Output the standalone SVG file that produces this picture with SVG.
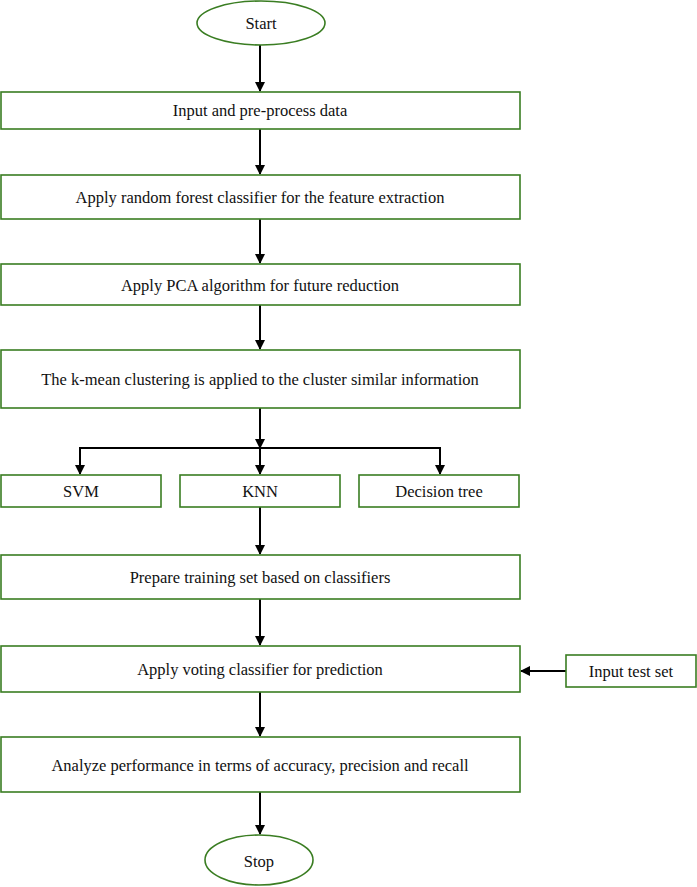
<svg xmlns="http://www.w3.org/2000/svg" width="697" height="887" viewBox="0 0 697 887">
<defs>
<marker id="ah" markerWidth="10" markerHeight="10" refX="9" refY="5" orient="auto" markerUnits="userSpaceOnUse">
<path d="M0,0 L10,5 L0,10 z" fill="#000"/>
</marker>
<style>
.n{fill:#fff;stroke:#3a7d22;stroke-width:1.6}
.t{font-size:16.5px;fill:#111;text-anchor:middle;dominant-baseline:central}
.c{stroke:#000;stroke-width:2;fill:none}
</style>
</defs>
<rect width="697" height="887" fill="#fff"/>
<g id="connectors">
<line class="c" x1="260" y1="45" x2="260" y2="91" marker-end="url(#ah)"/>
<line class="c" x1="260" y1="129" x2="260" y2="174" marker-end="url(#ah)"/>
<line class="c" x1="260" y1="219" x2="260" y2="263" marker-end="url(#ah)"/>
<line class="c" x1="260" y1="305" x2="260" y2="349" marker-end="url(#ah)"/>
<line class="c" x1="260" y1="408" x2="260" y2="448" marker-end="url(#ah)"/>
<polyline class="c" points="80,474 80,448 440,448 440,474" marker-end="url(#ah)"/>
<line class="c" x1="80" y1="448" x2="80" y2="474" marker-end="url(#ah)"/>
<line class="c" x1="260" y1="448" x2="260" y2="474" marker-end="url(#ah)"/>
<line class="c" x1="260" y1="507" x2="260" y2="554" marker-end="url(#ah)"/>
<line class="c" x1="260" y1="599" x2="260" y2="645" marker-end="url(#ah)"/>
<line class="c" x1="566" y1="671" x2="521" y2="671" marker-end="url(#ah)"/>
<line class="c" x1="260" y1="692" x2="260" y2="736" marker-end="url(#ah)"/>
<line class="c" x1="260" y1="792" x2="260" y2="834" marker-end="url(#ah)"/>
</g>
<g font-family="'Liberation Serif', 'DejaVu Serif', 'Times New Roman', serif">
<g id="start"><ellipse class="n" cx="261" cy="23" rx="64" ry="22"/><text class="t" x="261" y="23">Start</text></g>
<g id="input"><rect class="n" x="1" y="92" width="519" height="37"/><text class="t" x="260" y="110">Input and pre-process data</text></g>
<g id="rf"><rect class="n" x="1" y="175" width="519" height="44"/><text class="t" x="260" y="197">Apply random forest classifier for the feature extraction</text></g>
<g id="pca"><rect class="n" x="1" y="264" width="519" height="41"/><text class="t" x="260" y="285">Apply PCA algorithm for future reduction</text></g>
<g id="kmean"><rect class="n" x="1" y="350" width="519" height="58"/><text class="t" x="260" y="379">The k-mean clustering is applied to the cluster similar information</text></g>
<g id="svm"><rect class="n" x="1" y="475" width="160" height="32"/><text class="t" x="81" y="491">SVM</text></g>
<g id="knn"><rect class="n" x="180" y="475" width="160" height="32"/><text class="t" x="260" y="491">KNN</text></g>
<g id="dt"><rect class="n" x="359" y="475" width="160" height="32"/><text class="t" x="439" y="491">Decision tree</text></g>
<g id="train"><rect class="n" x="1" y="555" width="519" height="44"/><text class="t" x="260" y="577">Prepare training set based on classifiers</text></g>
<g id="vote"><rect class="n" x="1" y="646" width="519" height="46"/><text class="t" x="260" y="669">Apply voting classifier for prediction</text></g>
<g id="testset"><rect class="n" x="566" y="655" width="130" height="32"/><text class="t" x="631" y="671">Input test set</text></g>
<g id="analyze"><rect class="n" x="1" y="737" width="519" height="55"/><text class="t" x="260" y="765">Analyze performance in terms of accuracy, precision and recall</text></g>
<g id="stop"><ellipse class="n" cx="259" cy="860" rx="54" ry="25"/><text class="t" x="259" y="861">Stop</text></g>
</g>
</svg>
